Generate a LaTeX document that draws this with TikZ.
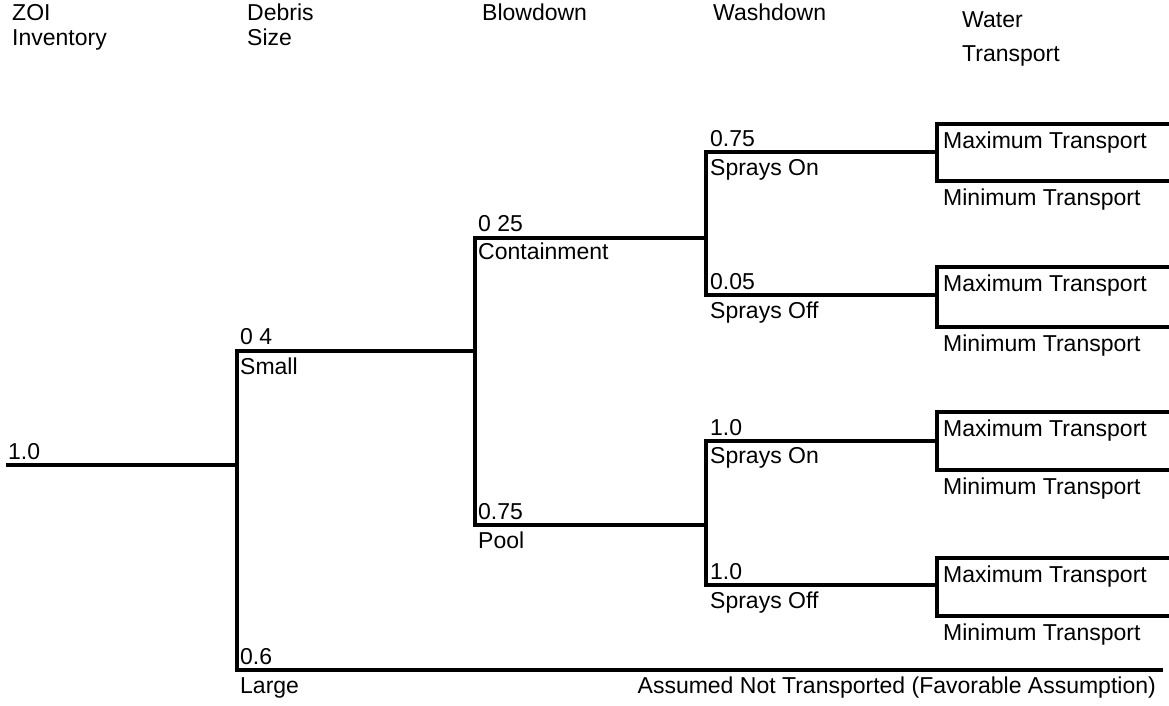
\documentclass[tikz,border=0pt]{standalone}
\usepackage{fontspec}
\setmainfont{Liberation Sans}
\begin{document}
\begin{tikzpicture}[x=1pt,y=-1pt,
  lbl/.style={anchor=base west, inner sep=0pt, font=\fontsize{23}{27}\selectfont},
  lblr/.style={anchor=base east, inner sep=0pt, font=\fontsize{23}{27}\selectfont},
  branch/.style={line width=3.2pt, line join=miter, line cap=butt}]
\useasboundingbox (0,0) rectangle (1169,705);
% headers
\node[lbl] (h1a) at (12,20) {ZOI};
\node[lbl] (h1b) at (12,45) {Inventory};
\node[lbl] (h2a) at (247,20) {Debris};
\node[lbl] (h2b) at (247,45) {Size};
\node[lbl] (h3) at (482,20) {Blowdown};
\node[lbl] (h4) at (713,20) {Washdown};
\node[lbl] (h5a) at (962,27) {Water};
\node[lbl] (h5b) at (962,61) {Transport};
% coordinates
\coordinate (root) at (6,465);
\coordinate (dj) at (237,465);
\coordinate (sm0) at (237,351); \coordinate (sm1) at (475,351);
\coordinate (lg0) at (237,670); \coordinate (lg1) at (1163,670);
\coordinate (ct0) at (475,238); \coordinate (ct1) at (706,238);
\coordinate (pl0) at (475,525); \coordinate (pl1) at (706,525);
\coordinate (sa0) at (706,152); \coordinate (sa1) at (937,152);
\coordinate (sb0) at (706,295); \coordinate (sb1) at (937,295);
\coordinate (sc0) at (706,441); \coordinate (sc1) at (937,441);
\coordinate (sd0) at (706,585); \coordinate (sd1) at (937,585);
% tree
\draw[branch] (root) -- (dj);
\draw[branch] (sm1) -- (sm0) -- (lg0) -- (lg1);
\draw[branch] (ct1) -- (ct0) -- (pl0) -- (pl1);
\draw[branch] (sa1) -- (sa0) -- (sb0) -- (sb1);
\draw[branch] (sc1) -- (sc0) -- (sd0) -- (sd1);
% transport boxes
\foreach \t/\b/\n in {124/181/a,267/327/b,412/470/c,558/616/d}{
  \coordinate (bt\n) at (937,\t); \coordinate (bb\n) at (937,\b);
  \coordinate (et\n) at (1169,\t); \coordinate (eb\n) at (1169,\b);
  \draw[branch] (et\n) -- (bt\n) -- (bb\n) -- (eb\n);
  \node[lbl] (mx\n) at (943,\t+24) {Maximum Transport};
  \node[lbl] (mn\n) at (943,\b+24) {Minimum Transport};
}
% labels
\node[lbl] (p0) at (8,459) {1.0};
\node[lbl] (p1) at (240,344) {0 4};
\node[lbl] (n1) at (240,374) {Small};
\node[lbl] (p2) at (240,664) {0.6};
\node[lbl] (n2) at (240,693) {Large};
\node[lblr] (n2b) at (1156,693) {Assumed Not Transported (Favorable Assumption)};
\node[lbl] (p3) at (478,231) {0 25};
\node[lbl] (n3) at (478,259) {Containment};
\node[lbl] (p4) at (478,519) {0.75};
\node[lbl] (n4) at (478,548) {Pool};
\node[lbl] (p5) at (710,146) {0.75};
\node[lbl] (n5) at (710,175) {Sprays On};
\node[lbl] (p6) at (710,289) {0.05};
\node[lbl] (n6) at (710,318) {Sprays Off};
\node[lbl] (p7) at (710,435) {1.0};
\node[lbl] (n7) at (710,463) {Sprays On};
\node[lbl] (p8) at (710,579) {1.0};
\node[lbl] (n8) at (710,608) {Sprays Off};
\end{tikzpicture}
\end{document}
